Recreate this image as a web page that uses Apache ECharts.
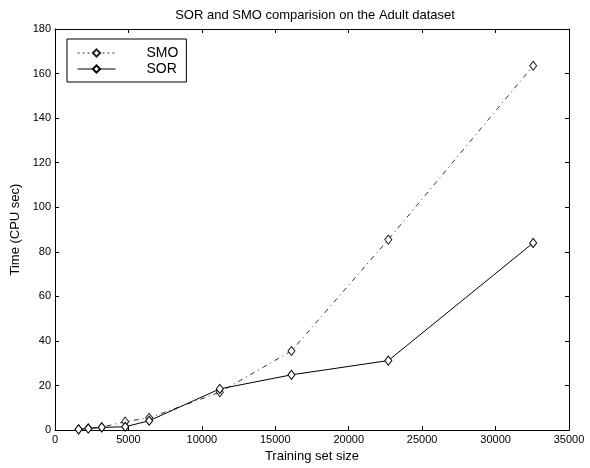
<!DOCTYPE html>
<html>
<head>
<meta charset="utf-8">
<script src="https://cdn.jsdelivr.net/npm/echarts@6/dist/echarts.min.js"></script>
<style>
  html, body { margin: 0; padding: 0; background: #fff; }
  #chart { width: 590px; height: 468px; }
</style>
</head>
<body>
<div id="chart"></div>
<script>
// training set sizes of the Adult dataset
var sizes = [1605, 2265, 3185, 4781, 6414, 11221, 16101, 22697, 32562];
// CPU seconds
var smoTime = [0.4, 0.8, 1.3, 3.8, 5.5, 17, 35.5, 85.5, 163.5];
var sorTime = [0.3, 0.7, 1.2, 1.5, 4.2, 18.5, 24.8, 31.2, 84];

function pairs(xs, ys) {
  var out = [];
  for (var i = 0; i < xs.length; i++) {
    out.push([xs[i], ys[i]]);
  }
  return out;
}

var font = 'Liberation Sans, Arial, sans-serif';
var chart = echarts.init(document.getElementById('chart'));

// axis used for the box + inside ticks on top/right
function boxAxis(extra) {
  var ax = {
    type: 'value',
    axisLine: { show: true, onZero: false, lineStyle: { color: '#000', width: 1 } },
    axisTick: { show: true, inside: true, length: 4, lineStyle: { color: '#000' } },
    splitLine: { show: false },
    axisLabel: { show: false }
  };
  return Object.assign(ax, extra);
}

var option = {
  backgroundColor: '#fff',
  animation: false,
  title: {
    text: 'SOR and SMO comparision on the Adult dataset',
    left: 310,
    textAlign: 'center',
    top: 4,
    textStyle: { fontFamily: font, fontSize: 13, fontWeight: 'normal', color: '#000' }
  },
  grid: { left: 55, right: 21, top: 29, bottom: 28 },
  legend: {
    left: 67,
    top: 39,
    orient: 'vertical',
    data: [
      { name: 'SMO', lineStyle: { type: [2, 3], width: 1 } },
      { name: 'SOR', lineStyle: { type: 'solid', width: 1 } }
    ],
    borderColor: '#000',
    borderWidth: 1,
    borderRadius: 0,
    padding: [7, 8, 6, 10],
    itemGap: 2,
    itemWidth: 38,
    itemHeight: 9,
    textStyle: { fontFamily: font, fontSize: 14, color: '#000', padding: [0, 0, 0, 26] }
  },
  xAxis: [
    boxAxis({
      min: 0, max: 35000, interval: 5000,
      position: 'bottom',
      name: 'Training set size',
      nameLocation: 'middle',
      nameGap: 19,
      nameTextStyle: { fontFamily: font, fontSize: 13, color: '#000' },
      axisLabel: {
        show: true, fontFamily: font, fontSize: 11, color: '#000', margin: 4,
        formatter: function (v) { return String(v); }
      }
    }),
    boxAxis({ min: 0, max: 35000, interval: 5000, position: 'top' })
  ],
  yAxis: [
    boxAxis({
      min: 0, max: 180, interval: 20,
      position: 'left',
      name: 'Time (CPU sec)',
      nameLocation: 'middle',
      nameGap: 26,
      nameTextStyle: { fontFamily: font, fontSize: 13, color: '#000' },
      axisLabel: { show: true, fontFamily: font, fontSize: 11, color: '#000', margin: 4 }
    }),
    boxAxis({ min: 0, max: 180, interval: 20, position: 'right' })
  ],
  series: [
    {
      name: 'SMO',
      type: 'line',
      data: pairs(sizes, smoTime),
      symbol: 'diamond',
      symbolSize: [7, 9],
      color: '#222',
      itemStyle: { color: '#fff', borderColor: '#222', borderWidth: 1 },
      lineStyle: { color: '#333', width: 1, type: [5, 4, 1, 4] }
    },
    {
      name: 'SOR',
      type: 'line',
      data: pairs(sizes, sorTime),
      symbol: 'diamond',
      symbolSize: [7, 9],
      color: '#000',
      itemStyle: { color: '#fff', borderColor: '#000', borderWidth: 1 },
      lineStyle: { color: '#000', width: 1, type: 'solid' }
    }
  ]
};

chart.setOption(option);
</script>
</body>
</html>
